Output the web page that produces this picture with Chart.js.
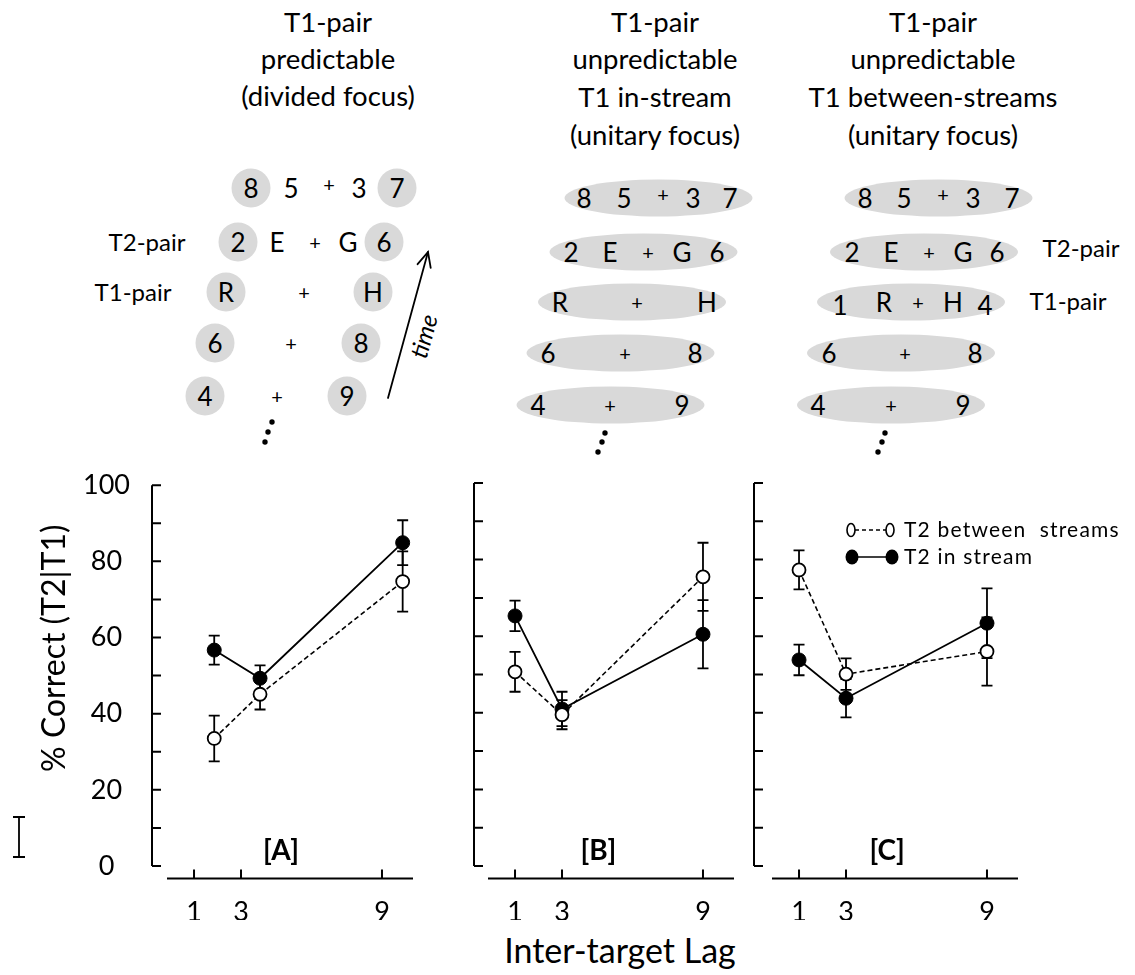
<!DOCTYPE html>
<html>
<head>
<meta charset="utf-8">
<title>% Correct (T2|T1) by inter-target lag</title>
<script src="https://cdn.jsdelivr.net/npm/chart.js@4.4.1/dist/chart.umd.min.js"></script>
<style>
  body { margin: 0; background: #fff; }
  #page { position: relative; width: 1135px; height: 975px; overflow: hidden; font-family: Lato, sans-serif; }
  #diagram { position: absolute; left: 0; top: 0; }
  .panel { position: absolute; top: 440px; height: 480px; }
  #xtitle { position: absolute; left: 420px; width: 400px; top: 930px; font-size: 34px; line-height: 40px; text-align: center; color: #000; }
</style>
</head>
<body>
<div id="page">

<svg id="diagram" width="1135" height="470" font-family="Lato, sans-serif">
  <!-- condition titles -->
  <g font-size="27.5" text-anchor="middle" fill="#000">
    <text x="328" y="32">T1-pair</text>
    <text x="328" y="69">predictable</text>
    <text x="328" y="106">(divided focus)</text>
    <text x="655" y="32">T1-pair</text>
    <text x="655" y="69">unpredictable</text>
    <text x="655" y="107">T1 in-stream</text>
    <text x="655" y="145">(unitary focus)</text>
    <text x="933" y="32">T1-pair</text>
    <text x="933" y="69">unpredictable</text>
    <text x="933" y="107">T1 between-streams</text>
    <text x="933" y="145">(unitary focus)</text>
  </g>

  <!-- grey highlights -->
  <g fill="#d9d9d9">
    <circle cx="251" cy="188" r="19.5"/><circle cx="397" cy="188" r="19.5"/>
    <circle cx="238" cy="242" r="19.5"/><circle cx="384" cy="242" r="19.5"/>
    <circle cx="226" cy="292" r="19.5"/><circle cx="373" cy="292" r="19.5"/>
    <circle cx="215" cy="343" r="19.5"/><circle cx="361" cy="343" r="19.5"/>
    <circle cx="205" cy="396" r="19.5"/><circle cx="347" cy="396" r="19.5"/>

    <ellipse cx="658.5" cy="198" rx="94" ry="18.5"/>
    <ellipse cx="643.5" cy="252" rx="94" ry="18.5"/>
    <ellipse cx="632" cy="302" rx="94" ry="18.5"/>
    <ellipse cx="620.5" cy="353" rx="94" ry="18.5"/>
    <ellipse cx="610.5" cy="405" rx="94" ry="18.5"/>

    <ellipse cx="938.5" cy="198" rx="94" ry="18.5"/>
    <ellipse cx="924" cy="252" rx="94" ry="18.5"/>
    <ellipse cx="911" cy="302" rx="94" ry="18.5"/>
    <ellipse cx="901" cy="353" rx="94" ry="18.5"/>
    <ellipse cx="891" cy="405" rx="94" ry="18.5"/>
  </g>

  <!-- stream items -->
  <g font-size="26" text-anchor="middle" dominant-baseline="central" fill="#000">
    <text x="251" y="188">8</text><text x="291" y="188">5</text><text x="359" y="188">3</text><text x="397" y="188">7</text>
    <text x="238" y="242">2</text><text x="277" y="242">E</text><text x="348" y="242">G</text><text x="384" y="242">6</text>
    <text x="226" y="292">R</text><text x="373" y="292">H</text>
    <text x="215" y="343">6</text><text x="361" y="343">8</text>
    <text x="205" y="396">4</text><text x="347" y="396">9</text>

    <text x="584" y="198">8</text><text x="624" y="198">5</text><text x="693" y="198">3</text><text x="730" y="198">7</text>
    <text x="571" y="252">2</text><text x="610" y="252">E</text><text x="682" y="252">G</text><text x="717" y="252">6</text>
    <text x="560" y="302">R</text><text x="707" y="302">H</text>
    <text x="548" y="353">6</text><text x="695" y="353">8</text>
    <text x="538" y="405">4</text><text x="682" y="405">9</text>

    <text x="865" y="198">8</text><text x="904" y="198">5</text><text x="973" y="198">3</text><text x="1012" y="198">7</text>
    <text x="852" y="252">2</text><text x="891" y="252">E</text><text x="963" y="252">G</text><text x="997" y="252">6</text>
    <text x="840" y="305">1</text><text x="884" y="302">R</text><text x="953" y="302">H</text><text x="985" y="305">4</text>
    <text x="829" y="353">6</text><text x="975" y="353">8</text>
    <text x="818" y="405">4</text><text x="963" y="405">9</text>
  </g>
  <g font-size="20" text-anchor="middle" dominant-baseline="central" fill="#000">
    <text x="329" y="184">+</text><text x="315" y="242">+</text><text x="304" y="292">+</text><text x="291" y="343">+</text><text x="277" y="396">+</text>
    <text x="663" y="194">+</text><text x="648" y="252">+</text><text x="637" y="302">+</text><text x="625" y="353">+</text><text x="610" y="405">+</text>
    <text x="943" y="194">+</text><text x="929" y="252">+</text><text x="918" y="302">+</text><text x="905" y="353">+</text><text x="891" y="405">+</text>
  </g>

  <!-- pair labels -->
  <g font-size="24" text-anchor="middle" dominant-baseline="central" fill="#000">
    <text x="147" y="241">T2-pair</text>
    <text x="133" y="291">T1-pair</text>
    <text x="1081" y="247">T2-pair</text>
    <text x="1068" y="300">T1-pair</text>
  </g>

  <!-- continuation dots -->
  <g fill="#000">
    <circle cx="272" cy="422" r="2.7"/><circle cx="268" cy="432" r="2.7"/><circle cx="265" cy="442" r="2.7"/>
    <circle cx="605" cy="433" r="2.7"/><circle cx="602" cy="442" r="2.7"/><circle cx="598" cy="452" r="2.7"/>
    <circle cx="885" cy="433" r="2.7"/><circle cx="882" cy="442" r="2.7"/><circle cx="878" cy="452" r="2.7"/>
  </g>

  <!-- time arrow -->
  <g stroke="#000" stroke-width="1.8" fill="none" stroke-linecap="round">
    <line x1="388" y1="398" x2="428" y2="252"/>
    <polyline points="417.6,264.2 428,252 430.7,267.8"/>
  </g>
  <text x="0" y="0" font-size="24" font-style="italic" text-anchor="middle" dominant-baseline="central"
        transform="translate(423 336) rotate(-74.7)">time</text>
</svg>

<div class="panel" style="left:0px;width:440px"><canvas id="panelA"></canvas></div>
<div class="panel" style="left:430px;width:330px"><canvas id="panelB"></canvas></div>
<div class="panel" style="left:700px;width:435px"><canvas id="panelC"></canvas></div>
<div id="xtitle">Inter-target Lag</div>

</div>

<script>
// lags on the x axis
const lags = [1, 3, 9];
// in panel A the markers sit a little right of the lag ticks
const lagPosA = [1.86, 3.81, 9.88];

// [A] T1-pair predictable
const betweenA = [33.5, 45.1, 74.7];
const betweenErrA = [6.0, 4.0, 7.9];
const inStreamA = [56.7, 49.3, 84.9];
const inStreamErrA = [3.8, 3.4, 5.9];

// [B] T1-pair unpredictable, T1 in-stream
const betweenB = [50.7, 39.5, 75.5];
const betweenErrB = [5.2, 3.8, 8.9];
const inStreamB = [65.3, 41.0, 60.5];
const inStreamErrB = [4.0, 4.5, 8.9];

// [C] T1-pair unpredictable, T1 between-streams
const betweenC = [77.3, 50.1, 56.0];
const betweenErrC = [5.1, 4.1, 8.9];
const inStreamC = [53.8, 43.8, 63.4];
const inStreamErrC = [4.0, 5.0, 9.1];

const seriesNames = ['T2 between  streams', 'T2 in stream'];

Chart.defaults.font.family = 'Lato, sans-serif';
Chart.defaults.color = '#000';

function pts(xs, ys) {
  return ys.map((v, i) => ({ x: xs[i], y: v }));
}

// error bars, axes drawn like the original, panel tags and extras
const deco = {
  id: 'deco',
  beforeDatasetsDraw(chart) {
    const ctx = chart.ctx, y = chart.scales.y;
    ctx.save();
    ctx.strokeStyle = '#000';
    ctx.lineWidth = 1.8;
    chart.data.datasets.forEach((ds, i) => {
      chart.getDatasetMeta(i).data.forEach((pt, j) => {
        const v = ds.data[j].y, e = ds.err[j];
        const top = y.getPixelForValue(v + e), bot = y.getPixelForValue(v - e);
        ctx.beginPath();
        ctx.moveTo(pt.x, top); ctx.lineTo(pt.x, bot);
        ctx.moveTo(pt.x - 5.5, top); ctx.lineTo(pt.x + 5.5, top);
        ctx.moveTo(pt.x - 5.5, bot); ctx.lineTo(pt.x + 5.5, bot);
        ctx.stroke();
      });
    });
    ctx.restore();
  },
  afterDraw(chart, args, o) {
    const ctx = chart.ctx, a = chart.chartArea, x = chart.scales.x, y = chart.scales.y;
    ctx.save();
    ctx.strokeStyle = '#000';
    ctx.fillStyle = '#000';
    ctx.lineWidth = 2;

    // y axis with inward ticks
    const ax = a.left - o.gap;
    ctx.beginPath();
    ctx.moveTo(ax, y.getPixelForValue(100));
    ctx.lineTo(ax, y.getPixelForValue(0));
    for (let v = 0; v <= 100; v += 10) {
      const py = y.getPixelForValue(v);
      ctx.moveTo(ax, py); ctx.lineTo(ax + 9, py);
    }
    // detached x axis with upward ticks
    const base = a.bottom + 12.5;
    ctx.moveTo(a.left, base); ctx.lineTo(a.right, base);
    lags.forEach(l => {
      const px = x.getPixelForValue(l);
      ctx.moveTo(px, base); ctx.lineTo(px, base - 9);
    });
    ctx.stroke();

    // panel tag
    ctx.font = 'bold 28px Lato';
    ctx.textAlign = 'center';
    ctx.textBaseline = 'middle';
    ctx.fillText(o.tag, x.getPixelForValue(o.tagX), y.getPixelForValue(3.9));

    if (o.yTitle) {
      ctx.save();
      ctx.translate(55, y.getPixelForValue(57.2));
      ctx.rotate(-Math.PI / 2);
      ctx.font = '32px Lato';
      ctx.fillText(o.yTitle, 0, 0);
      ctx.restore();
      // small reference error bar left of the axis
      ctx.lineWidth = 1.8;
      ctx.beginPath();
      ctx.moveTo(19, 377); ctx.lineTo(19, 417);
      ctx.moveTo(13, 377); ctx.lineTo(25, 377);
      ctx.moveTo(13, 417); ctx.lineTo(25, 417);
      ctx.stroke();
    }

    if (o.legend) {
      ctx.lineWidth = 1.6;
      ctx.setLineDash([4, 3]);
      ctx.beginPath(); ctx.moveTo(155, 90); ctx.lineTo(186, 90); ctx.stroke();
      ctx.setLineDash([]);
      ctx.beginPath(); ctx.moveTo(152, 117); ctx.lineTo(192, 117); ctx.stroke();
      ctx.fillStyle = '#fff';
      [151, 190].forEach(cx => {
        ctx.beginPath(); ctx.ellipse(cx, 90, 4, 6.5, 0, 0, Math.PI * 2); ctx.fill(); ctx.stroke();
      });
      ctx.fillStyle = '#000';
      [152, 192].forEach(cx => {
        ctx.beginPath(); ctx.ellipse(cx, 117, 6.5, 7.5, 0, 0, Math.PI * 2); ctx.fill();
      });
      ctx.font = '21px Lato';
      ctx.textAlign = 'left';
      ctx.letterSpacing = '1.2px';
      ctx.fillText(seriesNames[0], 204, 90);
      ctx.fillText(seriesNames[1], 204, 117);
    }
    ctx.restore();
  }
};

function makePanel(id, xs, between, betweenErr, inStream, inStreamErr, o) {
  return new Chart(document.getElementById(id), {
    type: 'line',
    data: {
      datasets: [
        {
          label: seriesNames[0], data: pts(xs, between), err: betweenErr,
          borderColor: '#000', borderWidth: 1.6, borderDash: [5, 3],
          pointRadius: 6.5, pointBackgroundColor: '#fff', pointBorderColor: '#000', pointBorderWidth: 1.8,
          tension: 0
        },
        {
          label: seriesNames[1], data: pts(xs, inStream), err: inStreamErr,
          borderColor: '#000', borderWidth: 1.8,
          pointRadius: 7, pointBackgroundColor: '#000', pointBorderColor: '#000', pointBorderWidth: 1,
          tension: 0
        }
      ]
    },
    options: {
      responsive: true,
      maintainAspectRatio: false,
      animation: false,
      layout: { padding: { left: 0, top: 43, right: o.padRight, bottom: 0 } },
      plugins: { legend: { display: false }, tooltip: { enabled: false }, deco: o },
      scales: {
        x: {
          type: 'linear', min: -0.15, max: 10.32,
          grid: { display: false }, border: { display: false },
          afterBuildTicks: s => { s.ticks = lags.map(v => ({ value: v })); },
          afterFit: s => { s.height = 54; },
          ticks: { padding: 22, font: { size: 27 }, color: '#000', autoSkip: false, maxRotation: 0 }
        },
        y: {
          min: 0, max: 100,
          grid: { display: false }, border: { display: false },
          afterFit: s => { s.width = o.left; },
          ticks: { display: o.yLabels, stepSize: 20, padding: 29, crossAlign: 'center', font: { size: 27 }, color: '#000' }
        }
      }
    },
    plugins: [deco]
  });
}

makePanel('panelA', lagPosA, betweenA, betweenErrA, inStreamA, inStreamErrA,
  { left: 167, padRight: 27, gap: 15, yLabels: true, tag: '[A]', tagX: 4.7, yTitle: '% Correct (T2|T1)' });
makePanel('panelB', lags, betweenB, betweenErrB, inStreamB, inStreamErrB,
  { left: 58, padRight: 26, gap: 14, yLabels: false, tag: '[B]', tagX: 4.55 });
makePanel('panelC', lags, betweenC, betweenErrC, inStreamC, inStreamErrC,
  { left: 72, padRight: 117, gap: 18, yLabels: false, tag: '[C]', tagX: 4.75, legend: true });
</script>
</body>
</html>
